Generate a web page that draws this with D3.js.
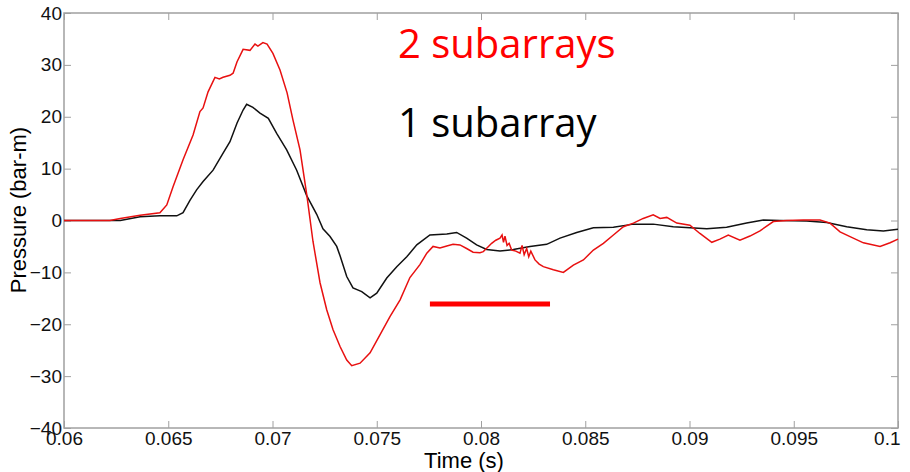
<!DOCTYPE html>
<html>
<head>
<meta charset="utf-8">
<script src="https://cdn.jsdelivr.net/npm/d3@7"></script>
<style>
body { margin: 0; background: #fff; }
text { font-family: "Liberation Sans", Arial, sans-serif; }
</style>
</head>
<body>
<div id="chart"></div>
<script>
// time (s), pressure (bar-m)
var one_subarray = [
	[0.06, 0], [0.0627, 0], [0.06365, 0.7], [0.0646, 0.9], [0.06541, 0.9], [0.06571, 1.5],
	[0.06604, 3.9], [0.06636, 5.9], [0.06667, 7.5], [0.06715, 9.7], [0.06763, 13], [0.06796, 15.2],
	[0.0683, 18.8], [0.06859, 21.3], [0.06876, 22.4], [0.06906, 21.8], [0.0694, 20.7], [0.0698, 19.7],
	[0.0702, 16.8], [0.07068, 13.6], [0.07116, 9.7], [0.07164, 4.8], [0.07212, 1.2], [0.07242, -1.6],
	[0.07276, -3.1], [0.07308, -5], [0.07324, -6.8], [0.07356, -10.8], [0.07386, -13], [0.07428, -13.7],
	[0.07468, -14.9], [0.075, -14], [0.07548, -11.1], [0.07596, -8.9], [0.07644, -7], [0.07692, -4.7],
	[0.07755, -2.8], [0.07836, -2.6], [0.07883, -2.3], [0.07931, -3.4], [0.07979, -4.7], [0.08027, -5.6],
	[0.08091, -5.9], [0.08155, -5.6], [0.08235, -5], [0.08315, -4.6], [0.08379, -3.4], [0.08459, -2.3],
	[0.08539, -1.4], [0.08635, -1.3], [0.08731, -0.7], [0.08826, -0.7], [0.08922, -1.2], [0.09083, -1.6],
	[0.09178, -1.3], [0.09274, -0.5], [0.09354, 0.1], [0.09434, 0], [0.09562, -0.1], [0.09658, -0.4],
	[0.09754, -1.2], [0.0985, -1.8], [0.0993, -2], [0.1, -1.7]
];

var two_subarrays = [
	[0.06, 0], [0.0622, 0], [0.0627, 0.4], [0.06365, 1.0], [0.0646, 1.5], [0.06493, 3.0],
	[0.06523, 6.5], [0.06571, 11.7], [0.06619, 16.5], [0.06652, 21.0], [0.06667, 21.7], [0.06691, 24.8],
	[0.06724, 27.6], [0.06745, 27.3], [0.06763, 27.6], [0.06796, 28.0], [0.06811, 28.4], [0.0683, 30.6],
	[0.06859, 33.0], [0.06892, 32.8], [0.06916, 34.0], [0.0693, 33.6], [0.06954, 34.3], [0.06974, 34.0],
	[0.07002, 32.2], [0.07036, 29.0], [0.0707, 24.6], [0.07098, 19.4], [0.07132, 13.6], [0.07165, 4.8],
	[0.07194, -4], [0.07228, -12], [0.0726, -17.2], [0.0729, -21], [0.07324, -24.3], [0.07356, -26.9],
	[0.0738, -28], [0.0742, -27.5], [0.07468, -25.5], [0.07516, -22], [0.07564, -18.5], [0.07612, -15.3],
	[0.07659, -11], [0.07707, -8.5], [0.0774, -6.3], [0.0777, -5], [0.07803, -5.3], [0.07836, -4.9],
	[0.07866, -4.6], [0.07899, -4.7], [0.07931, -5.4], [0.07962, -6.1], [0.07995, -6.2], [0.08011, -6],
	[0.08031, -5.2], [0.08051, -4.4], [0.08071, -3.8], [0.08091, -3.4], [0.08101, -2.8], [0.08108, -4.2],
	[0.08115, -3.0], [0.08125, -4.8], [0.08135, -4.4], [0.08147, -5.7], [0.08167, -5.9], [0.08187, -6.3],
	[0.08197, -4.8], [0.08207, -6.6], [0.08219, -5.4], [0.08229, -7.0], [0.08239, -5.9], [0.08259, -7.6],
	[0.08279, -8.4], [0.08299, -8.9], [0.08347, -9.5], [0.08395, -10], [0.08443, -8.6], [0.08491, -7.6],
	[0.08539, -5.7], [0.08587, -4.4], [0.08635, -2.8], [0.08683, -1.2], [0.08731, -0.5], [0.08778, 0.4],
	[0.08826, 1.1], [0.08859, 0.4], [0.08891, 0.6], [0.08939, -0.5], [0.09002, -0.9], [0.0905, -2.5],
	[0.09107, -4.2], [0.09146, -3.6], [0.09186, -2.8], [0.09242, -3.8], [0.0929, -3], [0.09338, -2],
	[0.09402, -0.2], [0.09466, 0], [0.09546, 0.1], [0.09626, 0.1], [0.09674, -0.5], [0.09722, -2.2],
	[0.0977, -3.1], [0.09834, -4.3], [0.09914, -5], [0.09962, -4.3], [0.1, -3.6]
];

var x_ticks = [0.06, 0.065, 0.07, 0.075, 0.08, 0.085, 0.09, 0.095, 0.1];
var y_ticks = [-40, -30, -20, -10, 0, 10, 20, 30, 40];
var marker_bar = [[0.07755, -16.1], [0.08331, -16.1]];

var width = 910;
var height = 472;
var margin = {top: 13, left: 64, right: 12, bottom: 44};
var plot_w = width - margin.left - margin.right;
var plot_h = height - margin.top - margin.bottom;

var svg = d3.select('#chart')
			.append('svg')
			.attr('width', width)
			.attr('height', height);

var g = svg.append('g')
		   .attr('transform', 'translate(' + margin.left + ',' + margin.top + ')');

// Scales
var x_scale = d3.scaleLinear().domain([0.06, 0.1]).range([0, plot_w]);
var y_scale = d3.scaleLinear().domain([-40, 40]).range([plot_h, 0]);

// Axes, MATLAB style: ticks inside, on all four sides
var tick_fmt = d3.format('~g');
var axis_color = '#a0a0a0';

function style_axis(sel) {
	sel.select('.domain').remove();
	sel.selectAll('line').attr('stroke', axis_color);
	sel.selectAll('text').attr('fill', '#111').style('font-size', '19px');
}

var x_axis_g = g.append('g')
 .attr('transform', 'translate(0,' + plot_h + ')')
 .call(d3.axisBottom(x_scale).tickValues(x_ticks).tickFormat(tick_fmt).tickSizeInner(-7).tickSizeOuter(0).tickPadding(3))
 .call(style_axis);

// last label sits just inside the right edge, as in the picture
x_axis_g.selectAll('.tick text')
 .filter(function(d){ return d === x_ticks[x_ticks.length - 1]; })
 .attr('text-anchor', 'end')
 .attr('x', 2);

g.append('g')
 .call(d3.axisTop(x_scale).tickValues(x_ticks).tickFormat('').tickSizeInner(-7).tickSizeOuter(0))
 .call(style_axis);

g.append('g')
 .call(d3.axisLeft(y_scale).tickValues(y_ticks).tickFormat(tick_fmt).tickSizeInner(-7).tickSizeOuter(0).tickPadding(2))
 .call(style_axis);

g.append('g')
 .attr('transform', 'translate(' + plot_w + ',0)')
 .call(d3.axisRight(y_scale).tickValues(y_ticks).tickFormat('').tickSizeInner(-7).tickSizeOuter(0))
 .call(style_axis);

g.append('rect')
 .attr('width', plot_w)
 .attr('height', plot_h)
 .attr('fill', 'none')
 .attr('stroke', axis_color)
 .attr('stroke-width', 1.5);

// Curves
var line = d3.line()
			 .x(function(d){ return x_scale(d[0]); })
			 .y(function(d){ return y_scale(d[1]); });

g.append('path')
 .datum(one_subarray)
 .attr('d', line)
 .attr('fill', 'none')
 .attr('stroke', '#111')
 .attr('stroke-width', 1.5);

g.append('path')
 .datum(two_subarrays)
 .attr('d', line)
 .attr('fill', 'none')
 .attr('stroke', '#e81010')
 .attr('stroke-width', 1.5);

g.append('path')
 .datum(marker_bar)
 .attr('d', line)
 .attr('fill', 'none')
 .attr('stroke', '#ff0000')
 .attr('stroke-width', 5);

// Labels
svg.append('text')
   .attr('x', 464)
   .attr('y', 468)
   .attr('text-anchor', 'middle')
   .style('font-size', '22px')
   .text('Time (s)');

svg.append('text')
   .attr('transform', 'translate(26,210) rotate(-90)')
   .attr('text-anchor', 'middle')
   .style('font-size', '22px')
   .text('Pressure (bar-m)');

svg.append('text')
   .attr('x', 398)
   .attr('y', 58)
   .attr('fill', '#ff0000')
   .style('font-family', '"Open Sans", sans-serif')
   .style('font-size', '40px')
   .text('2 subarrays');

svg.append('text')
   .attr('x', 398)
   .attr('y', 137)
   .attr('fill', '#000')
   .style('font-family', '"Open Sans", sans-serif')
   .style('font-size', '40px')
   .text('1 subarray');
</script>
</body>
</html>
